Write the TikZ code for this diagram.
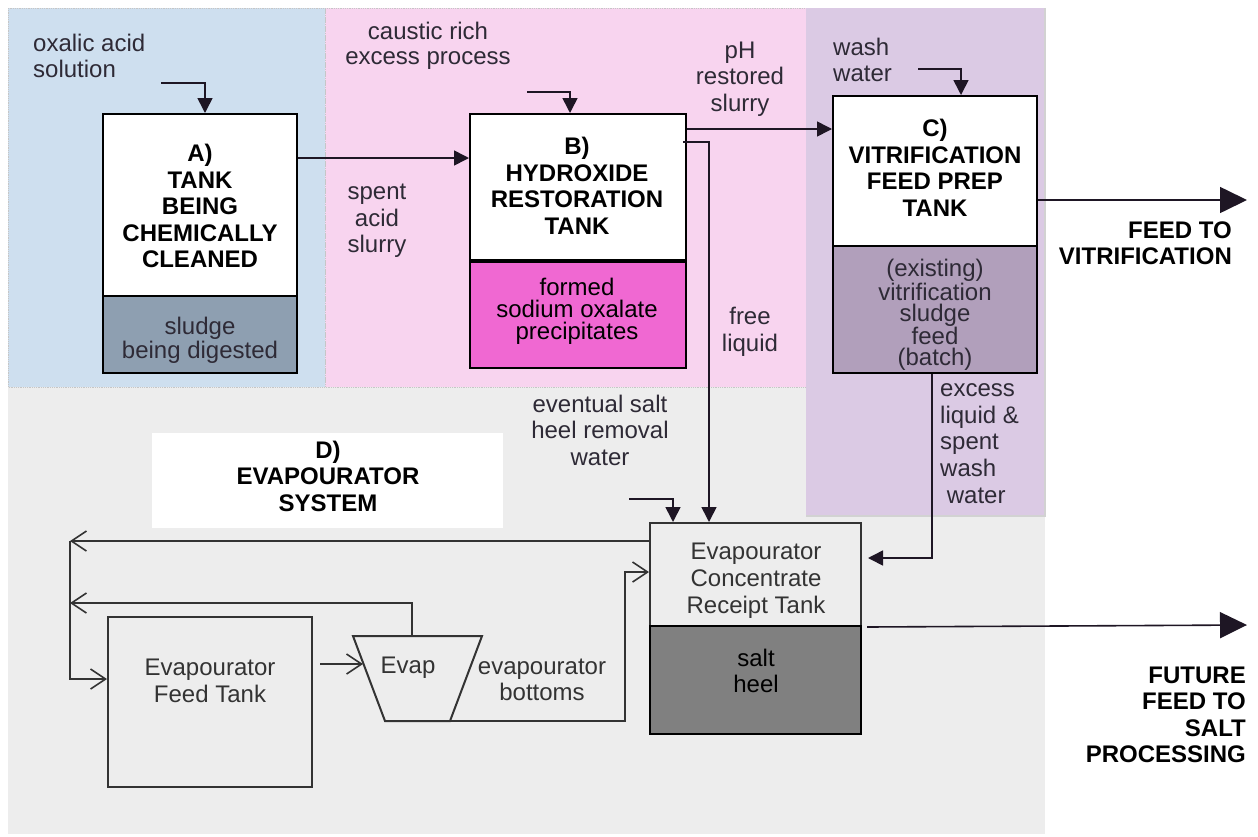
\documentclass[tikz,border=0pt]{standalone}
\usepackage{fontspec}
\setmainfont{Liberation Sans}
\usetikzlibrary{arrows.meta,shapes.geometric,calc}
\definecolor{bluebg}{HTML}{CEDFEF}
\definecolor{pinkbg}{HTML}{F8D4EF}
\definecolor{purplebg}{HTML}{DBCAE4}
\definecolor{greybg}{HTML}{EDEDED}
\definecolor{sludgeA}{HTML}{8E9FB1}
\definecolor{precB}{HTML}{F068D2}
\definecolor{feedC}{HTML}{B19FBB}
\definecolor{heel}{HTML}{808080}
\definecolor{lbl}{HTML}{2E2A36}
\definecolor{ln}{HTML}{1E1624}
\definecolor{lnb}{HTML}{333333}
\tikzset{
  txt/.style={font=\fontsize{24}{26.5}\selectfont, text=lbl, align=center, inner sep=0pt},
  ttl/.style={font=\fontsize{24}{26.5}\selectfont\bfseries, text=black, align=center, inner sep=0pt},
  tankbox/.style={draw=black, line width=2pt, inner sep=0pt, fill=white},
  evbox/.style={draw=lnb, line width=2pt, inner sep=0pt},
  fillarrow/.style={draw=ln, line width=1.6pt, -{Triangle[length=15pt,width=15pt]}},
  openarrow/.style={draw=lnb, line width=1.6pt, -{Straight Barb[length=15pt,width=20pt,line width=1.6pt]}},
  bigarrow/.style={draw=ln, line width=1.6pt, -{Triangle[length=27pt,width=26pt]}},
  plainline/.style={draw=lnb, line width=1.6pt},
  dotborder/.style={draw=gray!45, line width=0.8pt, densely dotted}
}
\begin{document}
\begin{tikzpicture}[x=1pt,y=-1pt]
\useasboundingbox (0,0) rectangle (1258,836);
% ---------- background regions
\fill[greybg] (8,387) rectangle (1045,834);
\fill[bluebg] (8,8) rectangle (325,387);
\fill[pinkbg] (325,8) rectangle (806,387);
\draw[dotborder] (8,8) rectangle (325,387);
\draw[dotborder] (325,8) rectangle (806,387);
\fill[purplebg] (806,8) rectangle (1045,516);
\draw[gray!35, line width=1.5pt] (1045,8) -- (1045,516) -- (806,516);

% ---------- tank A
\node[tankbox, minimum width=194, minimum height=182] (Atop) at (200,205) {};
\node[tankbox, fill=sludgeA, minimum width=194, minimum height=77] (Abot) at (200,334.5) {};
\node[ttl] (Atxt) at (200,206) {A)\\TANK\\BEING\\CHEMICALLY\\CLEANED};
\node[txt, font=\fontsize{24}{24}\selectfont] (Asl) at (200,340) {sludge\\being digested};
\node[txt, align=left, anchor=west] (oxl) at (33,56) {oxalic acid\\solution};
\coordinate (oxs) at (161,83);
\draw[fillarrow] (oxs) -- (oxs -| 205,0) -- (Atop.north -| 205,0);

% ---------- tank B
\node[tankbox, minimum width=216, minimum height=146] (Btop) at (578,187) {};
\node[tankbox, fill=precB, minimum width=216, minimum height=106] (Bbot) at (578,315) {};
\node[ttl] (Btxt) at (577,186) {B)\\HYDROXIDE\\RESTORATION\\TANK};
\node[txt, text=black, font=\fontsize{24}{22}\selectfont] (Bpr) at (577,311) {formed\\sodium oxalate\\precipitates};
\node[txt, font=\fontsize{24}{25.5}\selectfont] (cau) at (428,46) {caustic rich\\excess process};
\coordinate (caus) at (527,92);
\draw[fillarrow] (caus) -- (caus -| 570,0) -- (Btop.north -| 570,0);
\draw[fillarrow] (Atop.east |- 0,158) -- (Btop.west |- 0,158);
\node[txt] (spl) at (377,221) {spent\\acid\\slurry};

% ---------- tank C
\node[tankbox, minimum width=204, minimum height=150] (Ctop) at (935,171) {};
\node[tankbox, fill=feedC, minimum width=204, minimum height=127] (Cbot) at (935,309.5) {};
\node[ttl] (Ctxt) at (935,168) {C)\\VITRIFICATION\\FEED PREP\\TANK};
\node[txt, font=\fontsize{24}{21}\selectfont] (Cfd) at (935,315) {(existing)\\vitrification\\sludge\\feed\\(batch)};
\node[txt, align=left, anchor=west] (wwl) at (833,60) {wash\\water};
\coordinate (wws) at (918,69);
\draw[fillarrow] (wws) -- (wws -| 961,0) -- (Ctop.north -| 961,0);
\draw[fillarrow] (Btop.east |- 0,129) -- (Ctop.west |- 0,129);
\node[txt] (phl) at (740,79) {pH\\restored\\slurry};
\coordinate (fv) at (1247,200);
\draw[bigarrow] (Ctop.east |- fv) -- (fv);
\node[ttl, align=right, anchor=east] (fvl) at (1232,243) {FEED TO\\VITRIFICATION};

% ---------- evaporator system
\node[fill=white, minimum width=351, minimum height=95, inner sep=0pt] (Dbox) at (327.5,480.5) {};
\node[ttl] (Dtxt) at (328,476) {D)\\EVAPOURATOR\\SYSTEM};

\node[evbox, fill=greybg, minimum width=211, minimum height=103] (rtop) at (755.5,574.5) {};
\node[evbox, draw=black, fill=heel, minimum width=211, minimum height=108] (rbot) at (755.5,680) {};
\node[txt, text=lnb, font=\fontsize{24}{27}\selectfont] (rtx) at (756,581) {Evapourator\\Concentrate\\Receipt Tank};
\node[txt, text=black, font=\fontsize{24}{26}\selectfont] (htx) at (756,671) {salt\\heel};

\node[evbox, minimum width=204, minimum height=170] (ft) at (210,702) {};
\node[txt, text=lnb, font=\fontsize{24}{27}\selectfont] (ftx) at (210,681) {Evapourator\\Feed Tank};

% evaporator (trapezoid)
\coordinate (evTL) at (353,636);
\coordinate (evTR) at (482,636);
\coordinate (evBR) at (450,721);
\coordinate (evBL) at (385,721);
\coordinate (evIn) at (363,664);
\draw[draw=lnb, line width=2pt, line join=miter] (evTL) -- (evTR) -- (evBR) -- (evBL) -- cycle;
\node[txt, text=lnb] (evt) at (408,668) {Evap};
\node[txt, text=lnb, font=\fontsize{24}{26}\selectfont] (evb) at (542,680) {evapourator\\bottoms};

% free liquid
\draw[fillarrow] ($(Btop.east |- 0,142)+(-4,0)$) -- (709,142) -- (rtop.north -| 709,0);
\node[txt] (fll) at (750,332) {free\\liquid};
% eventual salt heel removal water
\node[txt] (esl) at (600,430) {eventual salt\\heel removal\\water};
\coordinate (ess) at (629,499);
\draw[fillarrow] (ess) -- (ess -| 673,0) -- (rtop.north -| 673,0);
% excess liquid
\draw[fillarrow] (Cbot.south -| 932,0) -- (932,558) -- ($(rtop.east |- 0,558)+(6,0)$);
\node[txt, align=left, anchor=west, font=\fontsize{24}{26.7}\selectfont] (exl) at (940,443.5) {excess\\liquid \&\\spent\\wash\\\ water};

% recycle lines
\coordinate (r1) at (70,541);
\coordinate (r2) at (70,603);
\coordinate (r3) at (70,679);
\draw[openarrow] (rtop.west |- r1) -- (r1);
\draw[openarrow] (evTL -| 412,0) -- (412,603) -- (r2);
\draw[openarrow] (r1) -- (r3) -- (ft.west |- r3);
\draw[openarrow] ($(ft.east |- evIn)+(7,0)$) -- (evIn);
\draw[openarrow] (evBR) -- (625,721) -- (625,572) -- (rtop.west |- 0,572);

% future feed to salt processing
\coordinate (ff) at (1247,625);
\draw[bigarrow] ($(rtop.south east)+(5,0)$) -- (ff);
\node[ttl, align=right, anchor=east] (ffl) at (1246,715) {FUTURE\\FEED TO\\SALT\\PROCESSING};
\end{tikzpicture}
\end{document}
